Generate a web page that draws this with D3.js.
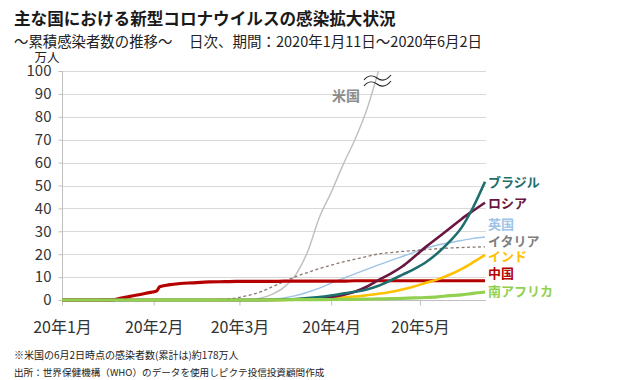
<!DOCTYPE html>
<html>
<head>
<meta charset="utf-8">
<script src="https://cdn.jsdelivr.net/npm/d3@7"></script>
<style>
  html, body { margin: 0; padding: 0; background: #fff; }
  svg { display: block; font-family: "Noto Sans CJK JP", "Noto Sans", sans-serif; }
</style>
</head>
<body>
<svg id="chart" width="626" height="380"></svg>
<script>
// ---- data (万人, cumulative cases) ----
const dates = ["2020-01-11","2020-01-20","2020-01-25","2020-01-28","2020-01-31","2020-02-03","2020-02-06","2020-02-09",
  "2020-02-12","2020-02-13","2020-02-16","2020-02-20","2020-02-24","2020-03-01","2020-03-06","2020-03-10",
  "2020-03-14","2020-03-18","2020-03-22","2020-03-26","2020-03-30","2020-04-03","2020-04-07","2020-04-11",
  "2020-04-15","2020-04-19","2020-04-23","2020-04-27","2020-05-01","2020-05-05","2020-05-09","2020-05-13",
  "2020-05-17","2020-05-21","2020-05-25","2020-05-29","2020-06-02"];

const usa    = [0,0,0,0,0,0,0,0, 0,0,0,0,0,0,0.02,0.07, 0.2,0.8,2.5,5.5,11,21,36,47, 59,70,83,100,null,null,null,null, null,null,null,null,null];
const uk     = [0,0,0,0,0,0,0,0, 0,0,0,0,0,0,0.01,0.03, 0.1,0.2,0.5,0.9,1.9,3.4,5.2,7.4, 9.4,11.4,13.4,15.3,17.2,19.0,20.8,22.6, 24.0,25.0,26.0,26.9,27.5];
const italy  = [0,0,0,0,0,0,0,0, 0,0,0,0,0.02,0.1,0.4,0.9, 2.0,3.5,5.7,8.0,10.2,12.0,13.7,15.2, 16.6,17.8,19.0,20.1,20.7,21.2,21.6,22.0, 22.4,22.7,22.9,23.1,23.2];
const china  = [0,0,0.02,0.05,0.8,1.6,2.3,3.1, 3.9,5.8,6.6,7.2,7.5,7.9,8.0,8.1, 8.1,8.1,8.1,8.2,8.2,8.2,8.2,8.2, 8.2,8.4,8.4,8.4,8.4,8.4,8.4,8.4, 8.4,8.4,8.4,8.4,8.4];
const india  = [0,0,0,0,0,0,0,0, 0,0,0,0,0,0,0,0, 0,0.02,0.04,0.07,0.1,0.25,0.45,0.76, 1.1,1.5,2.1,2.7,3.5,4.6,5.9,7.5, 9.0,11.0,13.5,16.5,19.7];
const russia = [0,0,0,0,0,0,0,0, 0,0,0,0,0,0,0,0, 0.01,0.02,0.04,0.08,0.15,0.35,0.7,1.3, 2.2,3.6,5.8,8.7,11.4,14.6,18.8,23.2, 27.2,31.2,35.3,39.0,42.5];
const brazil = [0,0,0,0,0,0,0,0, 0,0,0,0,0,0,0,0, 0.01,0.03,0.1,0.25,0.45,0.8,1.3,2.0, 2.8,3.6,4.6,6.2,8.5,11.0,13.5,16.5, 20.5,25.5,31.5,40.5,51.6];
const safrica= [0,0,0,0,0,0,0,0, 0,0,0,0,0,0,0,0, 0,0.01,0.02,0.08,0.13,0.16,0.18,0.21, 0.24,0.31,0.4,0.47,0.56,0.75,0.9,1.1, 1.4,1.9,2.2,2.9,3.5];

const seriesNames = ["米国","英国","イタリア","中国","インド","ロシア","ブラジル","南アフリカ"];
const yTicks = [0,10,20,30,40,50,60,70,80,90,100];
const xTickDates = ["2020-01-11","2020-02-11","2020-03-11","2020-04-11","2020-05-11"];
const xTickLabels = ["20年1月","20年2月","20年3月","20年4月","20年5月"];

// ---- styles ----
const styles = {
  "米国":     {values: usa,    color: "#bfbfbf", width: 1.4},
  "英国":     {values: uk,     color: "#9dc3e6", width: 1.4},
  "イタリア": {values: italy,  color: "#8a7870", width: 1.3, dash: "3,2.5", label: "#7f7f7f"},
  "中国":     {values: china,  color: "#b50000", width: 3.2},
  "インド":   {values: india,  color: "#ffc000", width: 2.6},
  "ロシア":   {values: russia, color: "#6a1640", width: 2.6},
  "ブラジル": {values: brazil, color: "#1e6e6e", width: 2.6},
  "南アフリカ": {values: safrica, color: "#92d050", width: 3.2}
};

const parse = d3.timeParse("%Y-%m-%d");
const svg = d3.select("#chart");

const x = d3.scaleTime().domain([parse(dates[0]), parse(dates[dates.length-1])]).range([62, 485]);
const y = d3.scaleLinear().domain([0, 100]).range([300, 71]);

// title
svg.append("text").attr("x", 14).attr("y", 25).attr("font-size", 16.6).attr("font-weight", "bold")
  .attr("fill", "#1a1a1a").text("主な国における新型コロナウイルスの感染拡大状況");
svg.append("text").attr("x", 14).attr("y", 47).attr("font-size", 14.4).attr("fill", "#222")
  .text("～累積感染者数の推移～");
svg.append("text").attr("x", 189).attr("y", 47).attr("font-size", 14.5).attr("fill", "#222")
  .text("日次、期間：2020年1月11日～2020年6月2日");
svg.append("text").attr("x", 47).attr("y", 61.5).attr("font-size", 12.5).attr("fill", "#222")
  .attr("text-anchor", "middle").text("万人");

// gridlines
svg.append("g").selectAll("line").data(yTicks.filter(d => d > 0)).join("line")
  .attr("x1", 62).attr("x2", 486).attr("y1", d => Math.round(y(d)) + 0.5).attr("y2", d => Math.round(y(d)) + 0.5)
  .attr("stroke", "#d9d9d9").attr("stroke-width", 1);

// y axis
const yAxis = svg.append("g").attr("transform", "translate(62.5,0)")
  .call(d3.axisLeft(y).tickValues(yTicks).tickSize(4).tickPadding(7).tickFormat(d3.format("d")));
yAxis.select(".domain").attr("stroke", "#bfbfbf").attr("d", `M0,${y(100)}V${y(0)}`);
yAxis.selectAll(".tick line").attr("stroke", "#bfbfbf");
yAxis.selectAll(".tick text").attr("font-size", 15).attr("fill", "#333")
  .attr("font-family", "'Noto Sans CJK JP', sans-serif");

// x axis
const xAxis = svg.append("g").attr("transform", "translate(0,300.5)")
  .call(d3.axisBottom(x).tickValues(xTickDates.map(parse)).tickSize(5).tickPadding(16)
    .tickFormat((d, i) => xTickLabels[i]));
xAxis.select(".domain").attr("stroke", "#bfbfbf").attr("d", "M62,0H486");
xAxis.selectAll(".tick line").attr("stroke", "#bfbfbf");
xAxis.selectAll(".tick text").attr("font-size", 16).attr("fill", "#333")
  .attr("font-family", "'Noto Sans CJK JP', sans-serif");

// lines
const line = d3.line()
  .defined(d => d.v !== null)
  .x(d => x(d.t)).y(d => y(d.v))
  .curve(d3.curveMonotoneX);

seriesNames.forEach(name => {
  const s = styles[name];
  const pts = dates.map((d, i) => ({t: parse(d), v: s.values[i]}));
  svg.append("path").datum(pts).attr("d", line)
    .attr("fill", "none").attr("stroke", s.color).attr("stroke-width", s.width)
    .attr("stroke-dasharray", s.dash || null).attr("stroke-linejoin", "round");
});

// break marker on US line
const wave = "c4,-5 9,-5 13,-2 c4,3 9,3 14,-3";
svg.append("path").attr("d", "M364,80" + wave).attr("fill", "none").attr("stroke", "#222").attr("stroke-width", 1.1);
svg.append("path").attr("d", "M364,86" + wave).attr("fill", "none").attr("stroke", "#222").attr("stroke-width", 1.1);

// US label
svg.append("text").attr("x", 346).attr("y", 101).attr("font-size", 14).attr("font-weight", "bold")
  .attr("fill", "#8c8c8c").attr("text-anchor", "middle").text("米国");

// end labels
const labelY = {"ブラジル": 182, "ロシア": 203, "英国": 224, "イタリア": 241, "インド": 256, "中国": 273, "南アフリカ": 291};
Object.keys(labelY).forEach(name => {
  const s = styles[name];
  svg.append("text").attr("x", 488).attr("y", labelY[name]).attr("dy", "0.36em")
    .attr("font-size", 13).attr("font-weight", "bold").attr("fill", s.label || s.color).text(name);
});

// footnotes
svg.append("text").attr("x", 14).attr("y", 359).attr("font-size", 10).attr("fill", "#222")
  .text("※米国の6月2日時点の感染者数(累計は)約178万人");
svg.append("text").attr("x", 14).attr("y", 376).attr("font-size", 9.6).attr("fill", "#222")
  .text("出所：世界保健機構（WHO）のデータを使用しピクテ投信投資顧問作成");
</script>
</body>
</html>
